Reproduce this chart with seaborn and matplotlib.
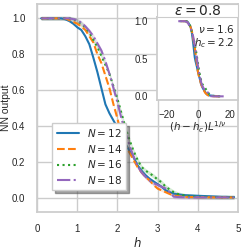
import numpy as np
import seaborn as sns
from matplotlib import pyplot as plt
from matplotlib.patches import Rectangle

# NN output vs field h for several system sizes, eps = 0.8
h = [0.1, 0.2, 0.3, 0.4, 0.5, 0.6, 0.7, 0.8, 0.9, 1.0,
     1.1, 1.2, 1.3, 1.4, 1.5, 1.6, 1.7, 1.8, 1.9, 2.0,
     2.1, 2.2, 2.3, 2.4, 2.5, 2.6, 2.7, 2.8, 2.9, 3.0,
     3.1, 3.2, 3.3, 3.4, 3.5, 3.6, 3.7, 3.8, 3.9, 4.0,
     4.1, 4.2, 4.3, 4.4, 4.5, 4.6, 4.7, 4.8, 4.9]

out_12 = [1.0, 1.0, 1.0, 1.0, 1.0, 1.0, 0.995, 0.985, 0.97, 0.95,
          0.935, 0.90, 0.855, 0.78, 0.70, 0.61, 0.52, 0.47, 0.43, 0.39,
          0.34, 0.30, 0.26, 0.225, 0.18, 0.15, 0.125, 0.105, 0.09, 0.075,
          0.06, 0.04, 0.03, 0.022, 0.018, 0.015, 0.013, 0.012, 0.011, 0.010,
          0.009, 0.008, 0.007, 0.006, 0.005, 0.004, 0.004, 0.003, 0.003]
out_14 = [1.0, 1.0, 1.0, 1.0, 1.0, 1.0, 1.0, 0.99, 0.98, 0.97,
          0.955, 0.935, 0.90, 0.865, 0.80, 0.75, 0.68, 0.61, 0.52, 0.44,
          0.35, 0.29, 0.25, 0.21, 0.17, 0.14, 0.115, 0.095, 0.07, 0.05,
          0.04, 0.03, 0.02, 0.012, 0.008, 0.005, 0.004, 0.003, 0.003, 0.002,
          0.002, 0.002, 0.002, 0.001, 0.001, 0.001, 0.001, 0.001, 0.001]
out_16 = [1.0, 1.0, 1.0, 1.0, 1.0, 1.0, 1.0, 1.0, 0.995, 0.985,
          0.97, 0.95, 0.92, 0.88, 0.84, 0.79, 0.74, 0.69, 0.62, 0.55,
          0.47, 0.39, 0.32, 0.26, 0.21, 0.17, 0.15, 0.135, 0.12, 0.10,
          0.085, 0.06, 0.045, 0.03, 0.02, 0.015, 0.01, 0.008, 0.006, 0.005,
          0.004, 0.004, 0.003, 0.003, 0.002, 0.002, 0.002, 0.002, 0.002]
out_18 = [1.0, 1.0, 1.0, 1.0, 1.0, 1.0, 1.0, 1.0, 0.995, 0.99,
          0.975, 0.955, 0.93, 0.90, 0.86, 0.82, 0.76, 0.69, 0.61, 0.53,
          0.44, 0.36, 0.29, 0.23, 0.175, 0.14, 0.115, 0.095, 0.08, 0.07,
          0.06, 0.05, 0.03, 0.005, 0.003, 0.002, 0.002, 0.001, 0.001, 0.001,
          0.001, 0.001, 0.001, 0.001, 0.001, 0.001, 0.001, 0.001, 0.001]

sizes = [12, 14, 16, 18]
band = [0.005, 0.006, 0.012, 0.012]   # rough spread shown as shading
nu = 1.6
h_c = 2.2

sns.set_theme(style='whitegrid')
plt.rcParams['font.family'] = ['Liberation Sans', 'DejaVu Sans']

pal = sns.color_palette('tab10')
colors = [pal[0], pal[1], pal[2], pal[4]]
styles = ['-', '--', ':', '-.']
curves = [out_12, out_14, out_16, out_18]

fig = plt.figure(figsize=(2.49, 2.49), dpi=100)
ax = fig.add_axes([0.149, 0.149, 0.807, 0.835])

for i in range(4):
    y = np.array(curves[i])
    ax.fill_between(h, y - band[i], y + band[i], color=colors[i], alpha=0.2, lw=0)
    ax.plot(h, y, ls=styles[i], color=colors[i], lw=1.5, label='$N = %d$' % sizes[i])

ax.set_xlim(0, 5)
ax.set_ylim(-0.08, 1.08)
ax.set_xticks([0, 1, 2, 3, 4, 5])
ax.set_yticks([0.0, 0.2, 0.4, 0.6, 0.8, 1.0])
ax.set_yticklabels(['0.0', '0.2', '0.4', '0.6', '0.8', '1.0'])
ax.tick_params(labelsize=7, pad=2.5)
ax.set_xlabel('$h$', fontsize=8.5, labelpad=2)
ax.set_ylabel('NN output', fontsize=7.5)
ax.yaxis.set_label_coords(-0.13, 0.5)
leg = ax.legend(loc='lower left', bbox_to_anchor=(0.05, 0.08), fontsize=7.5,
                shadow=True, fancybox=False, handlelength=2.2,
                borderpad=0.4, labelspacing=0.35, handletextpad=0.7)
leg.get_frame().set_edgecolor('0.8')

# white box for the inset title
fig.patches.append(Rectangle((0.632, 0.930), 0.324, 0.054, transform=fig.transFigure,
                             facecolor='white', edgecolor='0.8', lw=0.8, zorder=5))
fig.text(0.794, 0.957, r'$\varepsilon = 0.8$', ha='center', va='center', fontsize=10, zorder=6)

# data collapse inset
axin = fig.add_axes([0.632, 0.598, 0.324, 0.332])
for i in range(4):
    xs = (np.array(h) - h_c) * sizes[i] ** (1 / nu)
    axin.plot(xs, curves[i], ls=styles[i], color=colors[i], lw=1.5)
axin.grid(False)
axin.set_xlim(-26, 25)
axin.set_xticks([-20, 0, 20])
axin.set_yticks([0.0, 0.5, 1.0])
axin.set_yticklabels(['0.0', '0.5', '1.0'])
axin.tick_params(labelsize=7, pad=1)
axin.set_xlabel(r'$(h-h_c)L^{1/\nu}$', fontsize=7.5, labelpad=0)
axin.text(0.95, 0.93, r'$\nu = 1.6$' + '\n' + r'$h_c = 2.2$', transform=axin.transAxes,
          ha='right', va='top', fontsize=7.5, linespacing=1.1)

plt.savefig('out.png', dpi=100)
